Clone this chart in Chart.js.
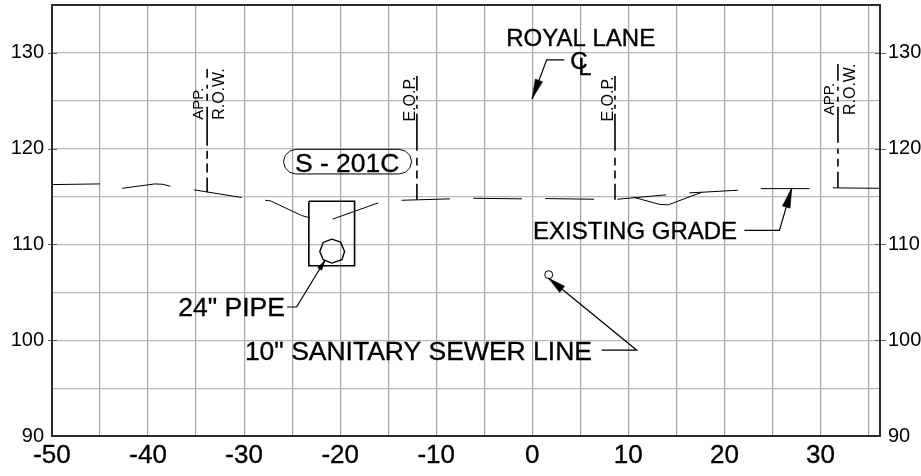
<!DOCTYPE html>
<html>
<head>
<meta charset="utf-8">
<style>
  html, body { margin: 0; padding: 0; background: #fff; }
  canvas { display: block; }
</style>
<script src="https://cdn.jsdelivr.net/npm/chart.js@4/dist/chart.umd.min.js"></script>
</head>
<body>
<canvas id="chart" width="921" height="476"></canvas>
<script>
// ---------------------------
// Data (offset ft, elevation ft)
// ---------------------------
const xRange = [-50, 36.2];
const yRange = [90, 135];
const xLabelStep = 10;
const yLabelStep = 10;
const gridStep = 5;

const gradeLines = [
  [[-49.9,116.25],[-45.03,116.32]],
  [[-42.7,115.86],[-39.3,116.32],[-38.44,116.28],[-37.67,116.07]],
  [[-35.2,115.7],[-30.27,114.9]],
  [[-27.81,114.61],[-27.25,114.55],[-24.02,113.02],[-23.16,112.78]],
  [[-20.79,112.64],[-16.04,114.34]],
  [[-13.6,114.61],[-8.57,114.76]],
  [[-6.15,114.82],[-1.07,114.76]],
  [[1.35,114.79],[6.43,114.72]],
  [[8.85,114.72],[13.93,115.18]],
  [[10.52,114.93],[13.3,114.17],[14.17,114.14],[17.65,115.45],[21.4,115.66]],
  [[16.35,115.39],[17.65,115.45]],
  [[23.79,115.83],[28.85,115.83]],
  [[31.29,115.91],[36.2,115.86]]
];

// x of each leader, then y pairs of its dashes
const leaderRowLeft = [-33.85, [128.33,127.4],[126.67,126.25],[125.73,125.0],[124.38,120.31],[119.79,118.96],[118.44,117.5],[116.98,115.45]];
const leaderEopLeft = [-12.01, [127.6,126.04],[125.52,125.1],[124.58,124.17],[123.65,119.79],[119.06,118.23],[117.71,116.88],[116.35,114.66]];
const leaderEopRight = [8.61, [127.6,126.04],[125.52,125.1],[124.58,124.17],[123.65,119.79],[119.06,118.23],[117.71,116.88],[116.35,114.66]];
const leaderRowRight = [31.82, [128.85,127.08],[126.46,126.04],[125.42,124.9],[124.38,120.63],[120,119.48],[118.96,118.13],[117.6,115.91]];

const trenchBox = [[-23.26,114.51],[-18.5,114.51],[-18.5,107.78],[-23.26,107.78],[-23.26,114.51]];
const pipe24 = [[-20.86,110.55],[-19.96,110.24],[-19.54,109.27],[-19.82,108.41],[-20.86,108.05],[-21.77,108.41],[-22.12,109.27],[-21.77,110.21],[-20.86,110.55]];
const sewerPipe = [[1.71,106.84]];

const calloutBubble = [
  [-13.85,119.93],[-13.21,119.75],[-12.74,119.29],[-12.56,118.645],[-12.74,118.0],[-13.21,117.53],[-13.85,117.36],
  [-24.61,117.36],[-25.25,117.53],[-25.72,118.0],[-25.9,118.645],[-25.72,119.29],[-25.25,119.75],[-24.61,119.93],[-13.85,119.93]
];

const arrowPipe = [[-25.52,103.47],[-24.54,103.47],[-21.59,108.33]];
const arrowSewer = [[7.23,98.96],[10.88,98.96],[1.67,106.49]];
const arrowRoyal = [[3.33,129.27],[1.5,129.27],[-0.03,125.18]];
const arrowGrade = [[22.08,111.46],[25.73,111.46],[27.02,115.91]];

const headPipe = [[-21.59,108.33],[-21.92,107.30],[-22.35,107.57],[-21.59,108.33]];
const headSewer = [[1.67,106.49],[2.85,104.98],[3.37,105.63],[1.67,106.49]];
const headRoyal = [[-0.03,125.18],[1.08,126.98],[0.31,127.27],[-0.03,125.18]];
const headGrade = [[27.02,115.91],[26.84,113.79],[26.04,114.02],[27.02,115.91]];

// text, x, y (baseline)
const bigLabels = [
  ["ROYAL LANE", 5.04, 130.73],
  ["C", 4.86, 128.33],
  ["L", 5.49, 127.71],
  ["EXISTING GRADE", 10.7, 110.52]
];
const wideLabels = [
  ["S - 201C", -19.27, 117.53],
  ["24\" PIPE", -31.31, 102.57],
  ["10\" SANITARY SEWER LINE", -11.85, 97.92]
];
const rowLabels = [
  ["R.O.W.", -32.08, 125.7],
  ["R.O.W.", 33.6, 126.2]
];
const appLabels = [
  ["APP.", -34.27, 124.7],
  ["APP.", 31.43, 125.18]
];
const eopLabels = [
  ["E.O.P.", -12.22, 125.18],
  ["E.O.P.", 8.37, 125.18]
];

// ---------------------------
// Datasets
// ---------------------------
const toPoints = pts => pts.map(p => ({ x: p[0], y: p[1] }));

function lineSet(pts, width){
  return {
    data: toPoints(pts), showLine: true, fill: false, tension: 0,
    borderColor: "#000", borderWidth: width, pointRadius: 0
  };
}

function headSet(pts){
  return {
    data: toPoints(pts), showLine: true, fill: "shape", tension: 0,
    borderColor: "#000", backgroundColor: "#000", borderWidth: 0.5, pointRadius: 0
  };
}

function leaderSets(leader){
  const x = leader[0];
  return leader.slice(1).map(d => lineSet([[x, d[0]], [x, d[1]]], 1.6));
}

const datasets = [];
gradeLines.forEach(g => datasets.push(lineSet(g, 1)));
[leaderRowLeft, leaderEopLeft, leaderEopRight, leaderRowRight].forEach(l => datasets.push(...leaderSets(l)));
datasets.push(lineSet(trenchBox, 1.6));
datasets.push(lineSet(pipe24, 1.4));
datasets.push(lineSet(calloutBubble, 1));
[arrowPipe, arrowSewer, arrowRoyal, arrowGrade].forEach(a => datasets.push(lineSet(a, 1.2)));
[headPipe, headSewer, headRoyal, headGrade].forEach(h => datasets.push(headSet(h)));
datasets.push({
  data: toPoints(sewerPipe), showLine: false, pointRadius: 4,
  pointBackgroundColor: "#fff", pointBorderColor: "#000", pointBorderWidth: 1
});

// ---------------------------
// Frame, tick marks and drawing notes
// ---------------------------
const drawingPlugin = {
  id: "drawing",
  beforeDatasetsDraw(chart){
    const { ctx, chartArea: a, scales: { x, y } } = chart;
    ctx.save();
    ctx.strokeStyle = "#666";
    ctx.lineWidth = 1;
    for(let v = yRange[0] + yLabelStep; v < yRange[1]; v += yLabelStep){
      const py = Math.round(y.getPixelForValue(v)) + 0.5;
      ctx.beginPath();
      ctx.moveTo(a.left - 4, py); ctx.lineTo(a.left + 5, py);
      ctx.moveTo(a.right - 5, py); ctx.lineTo(a.right + 6, py);
      ctx.stroke();
    }
    ctx.strokeStyle = "#2b2b2b";
    ctx.lineWidth = 2;
    ctx.strokeRect(a.left, a.top, a.right - a.left, a.bottom - a.top);
    ctx.restore();
  },
  afterDatasetsDraw(chart){
    const { ctx, scales: { x, y } } = chart;
    ctx.save();
    ctx.fillStyle = "#000";
    ctx.strokeStyle = "#000";
    ctx.lineWidth = 0.35;
    ctx.textBaseline = "alphabetic";
    ctx.textAlign = "center";

    const flat = (list, size) => {
      ctx.font = size + 'px "Liberation Sans"';
      list.forEach(l => {
        const px = x.getPixelForValue(l[1]), py = y.getPixelForValue(l[2]);
        ctx.fillText(l[0], px, py);
        ctx.strokeText(l[0], px, py);
      });
    };
    const upright = (list, size) => {
      ctx.font = size + 'px "Liberation Sans"';
      list.forEach(l => {
        ctx.save();
        ctx.translate(x.getPixelForValue(l[1]), y.getPixelForValue(l[2]));
        ctx.rotate(-Math.PI / 2);
        ctx.fillText(l[0], 0, 0);
        ctx.restore();
      });
    };

    flat(bigLabels, 24);
    flat(wideLabels, 26.5);
    upright(rowLabels, 16);
    upright(appLabels, 15);
    upright(eopLabels, 16);
    ctx.restore();
  }
};

// keep the plot box where the drawing has it, whatever the label sizes
function pinBox(size){
  return s => {
    Object.assign(s, size);
    s.paddingTop = 0; s.paddingBottom = 0; s.paddingLeft = 0; s.paddingRight = 0;
  };
}

// ---------------------------
// Chart
// ---------------------------
new Chart(document.getElementById("chart"), {
  type: "scatter",
  data: { datasets },
  plugins: [drawingPlugin],
  options: {
    responsive: false,
    animation: false,
    layout: { padding: { top: 4, left: 0, right: 0, bottom: 0 } },
    plugins: { legend: { display: false }, tooltip: { enabled: false } },
    scales: {
      x: {
        type: "linear",
        min: xRange[0],
        max: xRange[1],
        afterFit: pinBox({ height: 40 }),
        border: { display: false },
        grid: { color: "#a3a3a3", lineWidth: 1.2, drawTicks: false },
        ticks: {
          stepSize: gridStep,
          includeBounds: false,
          autoSkip: false,
          maxRotation: 0,
          padding: 4,
          color: "#000",
          textStrokeColor: "#000",
          textStrokeWidth: 0.35,
          font: { family: "Liberation Sans", size: 26 },
          callback: v => (v % xLabelStep === 0 ? String(v) : "")
        }
      },
      y: {
        type: "linear",
        position: "left",
        min: yRange[0],
        max: yRange[1],
        afterFit: pinBox({ width: 52 }),
        border: { display: false },
        grid: { color: "#b8b8b8", lineWidth: 1.2, drawTicks: false },
        ticks: {
          stepSize: gridStep,
          includeBounds: false,
          autoSkip: false,
          padding: 8,
          color: "#000",
          font: { family: "Liberation Sans", size: 20 },
          callback: v => (v % yLabelStep === 0 ? String(v) : "")
        }
      },
      yRight: {
        type: "linear",
        position: "right",
        min: yRange[0],
        max: yRange[1],
        afterFit: pinBox({ width: 41 }),
        border: { display: false },
        grid: { display: false, drawTicks: false },
        ticks: {
          stepSize: gridStep,
          includeBounds: false,
          autoSkip: false,
          padding: 8,
          color: "#000",
          font: { family: "Liberation Sans", size: 20 },
          callback: v => (v % yLabelStep === 0 ? String(v) : "")
        }
      }
    }
  }
});
</script>
</body>
</html>
